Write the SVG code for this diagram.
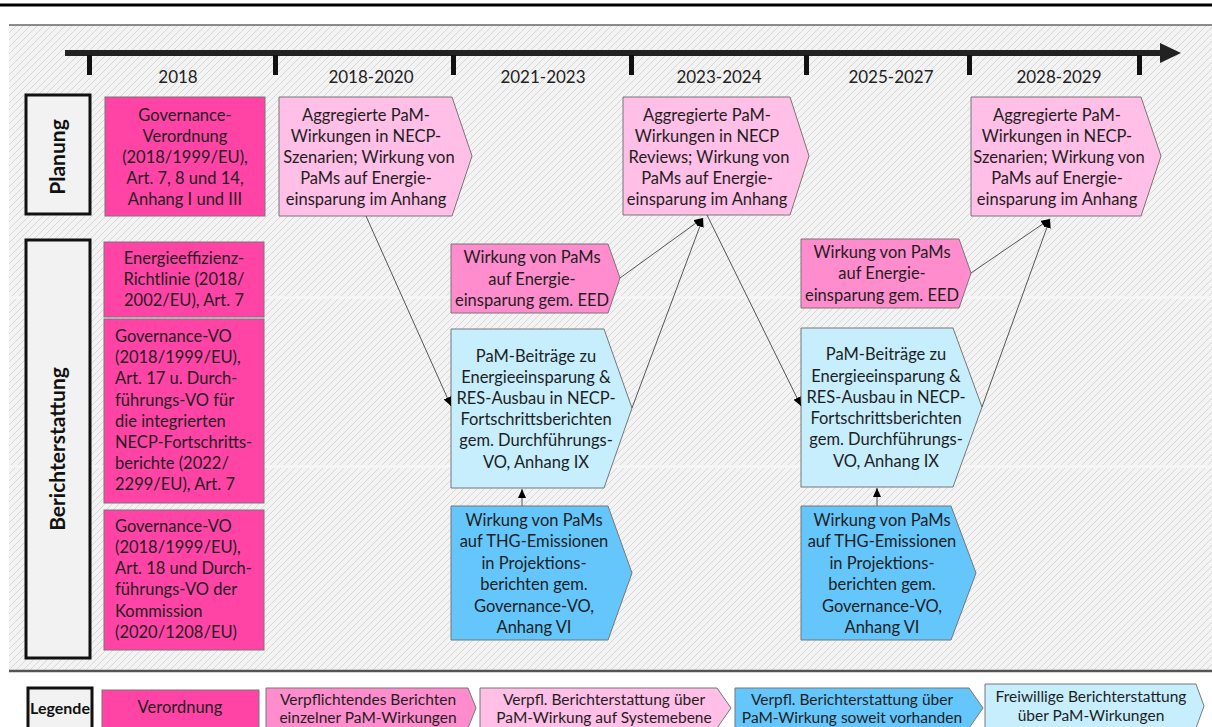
<svg xmlns="http://www.w3.org/2000/svg" width="1212" height="727" viewBox="0 0 1212 727">
<style>
.t{font-family:Lato,"Liberation Sans",sans-serif;font-size:16.5px;fill:#1e1e1e;text-anchor:middle}
.l{text-anchor:start}
.lg{font-size:15.5px}
.yr{font-family:Lato,"Liberation Sans",sans-serif;font-size:17px;fill:#222;text-anchor:middle}
.hd{font-family:Lato,"Liberation Sans",sans-serif;font-size:21px;font-weight:bold;fill:#111;text-anchor:middle}
.lab{fill:#f2f2f2;stroke:#111;stroke-width:3}
.vo{fill:#ff44a6;stroke:#777;stroke-width:1}
.mp{fill:#ff8dcd;stroke:#777;stroke-width:1}
.lp{fill:#ffbfe6;stroke:#777;stroke-width:1}
.lb{fill:#c6eefd;stroke:#777;stroke-width:1}
.bl{fill:#64c6fb;stroke:#777;stroke-width:1}
.con line{stroke:#555;stroke-width:1;fill:none;marker-end:url(#arr)}
.tick{fill:#111}
</style>
<defs>
<pattern id="hatch" width="7" height="7" patternUnits="userSpaceOnUse">
<rect width="7" height="7" fill="#f3f3f3"/>
<path d="M0,7 L7,0 M-2,2 L2,-2 M5,9 L9,5" stroke="#d8d8d8" stroke-width="1"/>
</pattern>
<marker id="arr" markerWidth="9" markerHeight="8" refX="9" refY="4" orient="auto" markerUnits="userSpaceOnUse">
<path d="M0,0 L9,4 L0,8 z" fill="#000"/>
</marker>
</defs>
<rect width="1212" height="727" fill="#fff"/>
<rect x="0" y="3.5" width="1212" height="3" fill="#000"/>
<rect x="9" y="25" width="1203" height="646" fill="url(#hatch)"/>
<rect x="9" y="296" width="1203" height="3" fill="#f6f6f6" opacity="0.8"/>
<rect x="9" y="465" width="1203" height="3" fill="#f6f6f6" opacity="0.8"/>
<line x1="9" y1="25" x2="1212" y2="25" stroke="#666" stroke-width="1.5"/>
<line x1="9" y1="671" x2="1212" y2="671" stroke="#555" stroke-width="2.5"/>

<g id="timeline">
<rect x="65" y="50" width="1100" height="6" fill="#222"/>
<polygon points="1160,43 1181,53 1160,63" fill="#222"/>
<rect class="tick" x="87" y="55" width="5" height="20"/>
<rect class="tick" x="273" y="55" width="5" height="20"/>
<rect class="tick" x="451" y="55" width="5" height="20"/>
<rect class="tick" x="629" y="55" width="5" height="20"/>
<rect class="tick" x="804" y="55" width="5" height="20"/>
<rect class="tick" x="967" y="55" width="5" height="20"/>
<rect class="tick" x="1137" y="55" width="5" height="20"/>
<text class="yr" x="178" y="83">2018</text>
<text class="yr" x="371" y="83">2018-2020</text>
<text class="yr" x="543" y="83">2021-2023</text>
<text class="yr" x="719" y="83">2023-2024</text>
<text class="yr" x="891" y="83">2025-2027</text>
<text class="yr" x="1059" y="83">2028-2029</text>
</g>

<g id="planung">
<rect class="lab" x="26" y="95" width="64" height="119"/>
<text class="hd" transform="translate(65,157) rotate(-90)">Planung</text>
</g>
<g id="berichterstattung">
<rect class="lab" x="26" y="240" width="64" height="418"/>
<text class="hd" transform="translate(65,449) rotate(-90)">Berichterstattung</text>
</g>

<g id="vo-planung">
<rect class="vo" x="105" y="97" width="160" height="119"/>
<text class="t" x="185" y="121">Governance-</text>
<text class="t" x="185" y="142">Verordnung</text>
<text class="t" x="185" y="163">(2018/1999/EU),</text>
<text class="t" x="185" y="184">Art. 7, 8 und 14,</text>
<text class="t" x="185" y="205">Anhang I und III</text>
</g>

<g id="vo-eed">
<rect class="vo" x="104" y="242" width="160" height="75"/>
<text class="t" x="184" y="264">Energieeffizienz-</text>
<text class="t" x="184" y="285">Richtlinie (2018/</text>
<text class="t" x="184" y="306">2002/EU), Art. 7</text>
</g>

<g id="vo-gov17">
<rect class="vo" x="104" y="319" width="160" height="184"/>
<text class="t l" x="115" y="342">Governance-VO</text>
<text class="t l" x="115" y="363">(2018/1999/EU),</text>
<text class="t l" x="115" y="384">Art. 17 u. Durch-</text>
<text class="t l" x="115" y="406">führungs-VO für</text>
<text class="t l" x="115" y="427">die integrierten</text>
<text class="t l" x="115" y="448">NECP-Fortschritts-</text>
<text class="t l" x="115" y="469">berichte (2022/</text>
<text class="t l" x="115" y="490">2299/EU), Art. 7</text>
</g>

<g id="vo-gov18">
<rect class="vo" x="104" y="510" width="160" height="140"/>
<text class="t l" x="115" y="532">Governance-VO</text>
<text class="t l" x="115" y="553">(2018/1999/EU),</text>
<text class="t l" x="115" y="574">Art. 18 und Durch-</text>
<text class="t l" x="115" y="595">führungs-VO der</text>
<text class="t l" x="115" y="617">Kommission</text>
<text class="t l" x="115" y="638">(2020/1208/EU)</text>
</g>

<g id="necp-2018-2020">
<polygon class="lp" points="279,97 452,97 472,156 452,216 279,216"/>
<text class="t" x="366" y="121">Aggregierte PaM-</text>
<text class="t" x="366" y="142">Wirkungen in NECP-</text>
<text class="t" x="369" y="163">Szenarien; Wirkung von</text>
<text class="t" x="366" y="184">PaMs auf Energie-</text>
<text class="t" x="366" y="205">einsparung im Anhang</text>
</g>

<g id="necp-review-2023-2024">
<polygon class="lp" points="623,97 790,97 809,156 790,215 623,215"/>
<text class="t" x="707" y="121">Aggregierte PaM-</text>
<text class="t" x="707" y="142">Wirkungen in NECP</text>
<text class="t" x="709" y="163">Reviews;  Wirkung von</text>
<text class="t" x="707" y="184">PaMs auf Energie-</text>
<text class="t" x="707" y="205">einsparung im Anhang</text>
</g>

<g id="necp-2028-2029">
<polygon class="lp" points="971,97 1141,97 1161,156 1141,216 971,216"/>
<text class="t" x="1057" y="121">Aggregierte PaM-</text>
<text class="t" x="1057" y="142">Wirkungen in NECP-</text>
<text class="t" x="1059" y="163">Szenarien;  Wirkung von</text>
<text class="t" x="1057" y="184">PaMs auf Energie-</text>
<text class="t" x="1057" y="205">einsparung im Anhang</text>
</g>

<g id="eed-1">
<polygon class="mp" points="451,244 608,244 620,278 608,313 451,313"/>
<text class="t" x="532" y="263">Wirkung von PaMs</text>
<text class="t" x="532" y="285">auf Energie-</text>
<text class="t" x="532" y="306">einsparung gem. EED</text>
</g>

<g id="eed-2">
<polygon class="mp" points="801,239 959,239 971,273 959,308 801,308"/>
<text class="t" x="882" y="258">Wirkung von PaMs</text>
<text class="t" x="882" y="279">auf Energie-</text>
<text class="t" x="882" y="301">einsparung gem. EED</text>
</g>

<g id="fortschritt-1">
<polygon class="lb" points="451,329 604,329 632,408 604,488 451,488"/>
<text class="t" x="536" y="362">PaM-Beiträge zu</text>
<text class="t" x="536" y="383">Energieeinsparung &amp;</text>
<text class="t" x="536" y="404">RES-Ausbau in NECP-</text>
<text class="t" x="536" y="425">Fortschrittsberichten</text>
<text class="t" x="536" y="446">gem. Durchführungs-</text>
<text class="t" x="536" y="468">VO, Anhang IX</text>
</g>

<g id="fortschritt-2">
<polygon class="lb" points="801,328 953,328 982,407 953,487 801,487"/>
<text class="t" x="886" y="360">PaM-Beiträge zu</text>
<text class="t" x="886" y="382">Energieeinsparung &amp;</text>
<text class="t" x="886" y="403">RES-Ausbau in NECP-</text>
<text class="t" x="886" y="424">Fortschrittsberichten</text>
<text class="t" x="886" y="445">gem. Durchführungs-</text>
<text class="t" x="886" y="467">VO, Anhang IX</text>
</g>

<g id="projektion-1">
<polygon class="bl" points="451,506 608,506 632,573 608,640 451,640"/>
<text class="t" x="534" y="526">Wirkung von PaMs</text>
<text class="t" x="534" y="547">auf THG-Emissionen</text>
<text class="t" x="534" y="569">in Projektions-</text>
<text class="t" x="534" y="590">berichten gem.</text>
<text class="t" x="534" y="612">Governance-VO,</text>
<text class="t" x="534" y="633">Anhang VI</text>
</g>

<g id="projektion-2">
<polygon class="bl" points="801,506 951,506 976,573 951,640 801,640"/>
<text class="t" x="882" y="526">Wirkung von PaMs</text>
<text class="t" x="882" y="547">auf THG-Emissionen</text>
<text class="t" x="882" y="569">in Projektions-</text>
<text class="t" x="882" y="590">berichten gem.</text>
<text class="t" x="882" y="612">Governance-VO,</text>
<text class="t" x="882" y="633">Anhang VI</text>
</g>

<g id="connectors" class="con">
<line x1="366" y1="216" x2="451" y2="406"/>
<line x1="620" y1="278" x2="703" y2="218"/>
<line x1="632" y1="408" x2="703" y2="218"/>
<line x1="707" y1="215" x2="801" y2="406"/>
<line x1="971" y1="273" x2="1050" y2="219"/>
<line x1="982" y1="407" x2="1050" y2="219"/>
<line x1="522" y1="506" x2="522" y2="489"/>
<line x1="877" y1="506" x2="877" y2="488"/>
</g>

<g id="legende">
<rect class="lab" x="28" y="688" width="64" height="50"/>
<text class="hd" x="60" y="714" style="font-size:16px">Legende</text>
</g>
<g id="legend-verordnung">
<rect class="vo" x="102" y="690" width="157" height="50"/>
<text class="t" x="180" y="713">Verordnung</text>
</g>
<g id="legend-einzel">
<polygon class="mp" points="266,688 468,688 476,708 468,728 266,728"/>
<text class="t lg" x="368" y="705">Verpflichtendes Berichten</text>
<text class="t lg" x="368" y="723">einzelner PaM-Wirkungen</text>
</g>
<g id="legend-system">
<polygon class="lp" points="480,688 717,688 731,708 717,728 480,728"/>
<text class="t lg" x="604" y="705">Verpfl. Berichterstattung über</text>
<text class="t lg" x="604" y="723">PaM-Wirkung auf Systemebene</text>
</g>
<g id="legend-soweit">
<polygon class="bl" points="735,688 969,688 983,708 969,728 735,728"/>
<text class="t lg" x="852" y="705">Verpfl. Berichterstattung über</text>
<text class="t lg" x="852" y="723">PaM-Wirkung soweit vorhanden</text>
</g>
<g id="legend-freiwillig">
<polygon class="lb" points="985,684 1196,684 1204,706 1196,728 985,728"/>
<text class="t lg" x="1091" y="702">Freiwillige Berichterstattung</text>
<text class="t lg" x="1091" y="721">über PaM-Wirkungen</text>
</g>
</svg>
